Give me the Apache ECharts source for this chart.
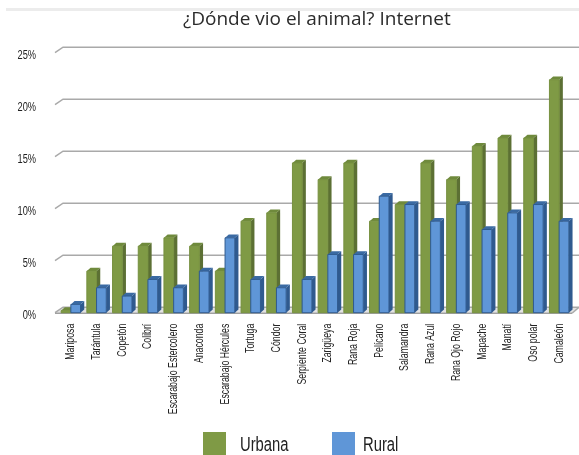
<!DOCTYPE html>
<html><head><meta charset="utf-8">
<style>html,body{margin:0;padding:0;background:#fff}#c{width:579px;height:455px}</style>
<script src="https://cdn.jsdelivr.net/npm/echarts@6/dist/echarts.min.js"></script>
</head><body><div id="c"></div>
<script>
const categories = ["Mariposa","Tarántula","Copetón","Colibrí","Escarabajo Estercolero","Anaconda","Escarabajo Hércules","Tortuga","Cóndor","Serpiente Coral","Zarigüeya","Rana Roja","Pelícano","Salamandra","Rana Azul","Rana Ojo Rojo","Mapache","Manatí","Oso polar","Camaleón"];
const urbana = [0.2,4,6.4,6.4,7.2,6.4,4,8.8,9.6,14.4,12.8,14.4,8.8,10.4,14.4,12.8,16,16.8,16.8,22.4];
const rural = [0.8,2.4,1.6,3.2,2.4,4,7.2,3.2,2.4,3.2,5.6,5.6,11.2,10.4,8.8,10.4,8,9.6,10.4,8.8];
const ticks = [0,5,10,15,20,25];
const tickLabels = ["0%","5%","10%","15%","20%","25%"];
const font = '"Liberation Sans",Arial,sans-serif';
const SQ = 0.74, SQC = 0.7;
const DX = 3.7, DY = 3.3, BW = 9.7;

function bar3d(color, top, side, edge, offset) {
  return function (params, api) {
    const p = api.coord([api.value(0), api.value(1)]);
    const b = api.coord([api.value(0), 0]);
    const x0 = p[0] + offset, x1 = x0 + BW;
    return {type:'group', children:[
      {type:'polygon', shape:{points:[[x1,p[1]],[x1+DX,p[1]-DY],[x1+DX,b[1]-DY],[x1,b[1]]]}, style:{fill:side}},
      {type:'polygon', shape:{points:[[x0,p[1]],[x0+DX,p[1]-DY],[x1+DX,p[1]-DY],[x1,p[1]]]}, style:{fill:top}},
      {type:'rect', shape:{x:x0,y:p[1],width:BW,height:b[1]-p[1]}, style:{fill:color,stroke:edge,lineWidth:1}}
    ]};
  };
}
function gridRender(params, api) {
  const c = params.coordSys, v = api.value(0), y = api.coord([0, v])[1];
  const l = c.x - 3, r = c.x + c.width;
  const gx = 8, gy = 5.5;
  const kids = [
    {type:'polyline', shape:{points:[[l,y],[l+gx,y-gy],[r+7,y-gy]]}, style:{fill:null,stroke:'#a9a9a9',lineWidth:1.5}},
    {type:'text', x:36, y:y+3, scaleX:SQ, style:{text:tickLabels[params.dataIndex], font:'12.5px '+font, fill:'#222', align:'right', verticalAlign:'middle'}}
  ];
  if (v === 0) {
    kids.unshift({type:'polygon', shape:{points:[[l,y],[l+gx,y-gy],[r+7,y-gy],[r,y]]}, style:{fill:'#e3e3e3'}});
    kids.push({type:'line', shape:{x1:l,y1:y+0.5,x2:r,y2:y+0.5}, style:{stroke:'#a0a0a0',lineWidth:1.5}});
    kids.push({type:'line', shape:{x1:r,y1:y+0.5,x2:r+7,y2:y-gy}, style:{stroke:'#a9a9a9',lineWidth:1.5}});
  }
  return {type:'group', children:kids};
}
function catLabel(params, api) {
  const b = api.coord([api.value(0), 0]);
  return {type:'text', x:b[0], y:b[1]+11, rotation:Math.PI/2, scaleX:SQC,
    style:{text:categories[params.dataIndex], font:'12.5px '+font, fill:'#222', align:'right', verticalAlign:'middle'}};
}
const pairs = a => a.map((v,i)=>[i,v]);
const legendItem = (name, color, sx, tx) => [
  {type:'rect', x:sx, y:432, shape:{width:23,height:23}, style:{fill:color}},
  {type:'text', x:tx, y:445.5, scaleX:SQ, style:{text:name, font:'20px '+font, fill:'#222', verticalAlign:'middle'}}
];
const chart = echarts.init(document.getElementById('c'), null, {renderer:'canvas'});
chart.setOption({
  animation:false,
  backgroundColor:'#fff',
  title:{text:'¿Dónde vio el animal? Internet',left:178,top:5,textStyle:{fontFamily:'"Open Sans",sans-serif',fontSize:19,fontWeight:'normal',color:'#2b2b2b'}},
  grid:{left:58,right:7,top:52.7,height:260},
  xAxis:{type:'category',data:categories,axisLine:{show:false},axisTick:{show:false},splitLine:{show:false},axisLabel:{show:false}},
  yAxis:{type:'value',min:0,max:25,interval:5,axisLine:{show:false},axisTick:{show:false},splitLine:{show:false},axisLabel:{show:false}},
  graphic:[
    {type:'rect',x:6,y:8,z:-1,shape:{width:573,height:3},style:{fill:'#ececec'}},
    ...legendItem('Urbana','#7f9a45',203,240),
    ...legendItem('Rural','#5f96d7',332,363)
  ],
  series:[
    {type:'custom',name:'grid',silent:true,z:1,clip:false,data:ticks.map(v=>[v]),encode:{y:0},renderItem:gridRender},
    {type:'custom',name:'labels',silent:true,z:1,clip:false,data:categories.map((c,i)=>[i]),encode:{x:0},renderItem:catLabel},
    {type:'custom',name:'Urbana',z:2,data:pairs(urbana),encode:{x:0,y:1},
      renderItem:bar3d('#7f9a45','#6f8a3c','#5c7034','#76903f',-BW)},
    {type:'custom',name:'Rural',z:3,data:pairs(rural),encode:{x:0,y:1},
      renderItem:bar3d('#5f96d7','#3a6aa3','#2f5a8f','#2f5a8f',0)}
  ]
});
</script></body></html>
